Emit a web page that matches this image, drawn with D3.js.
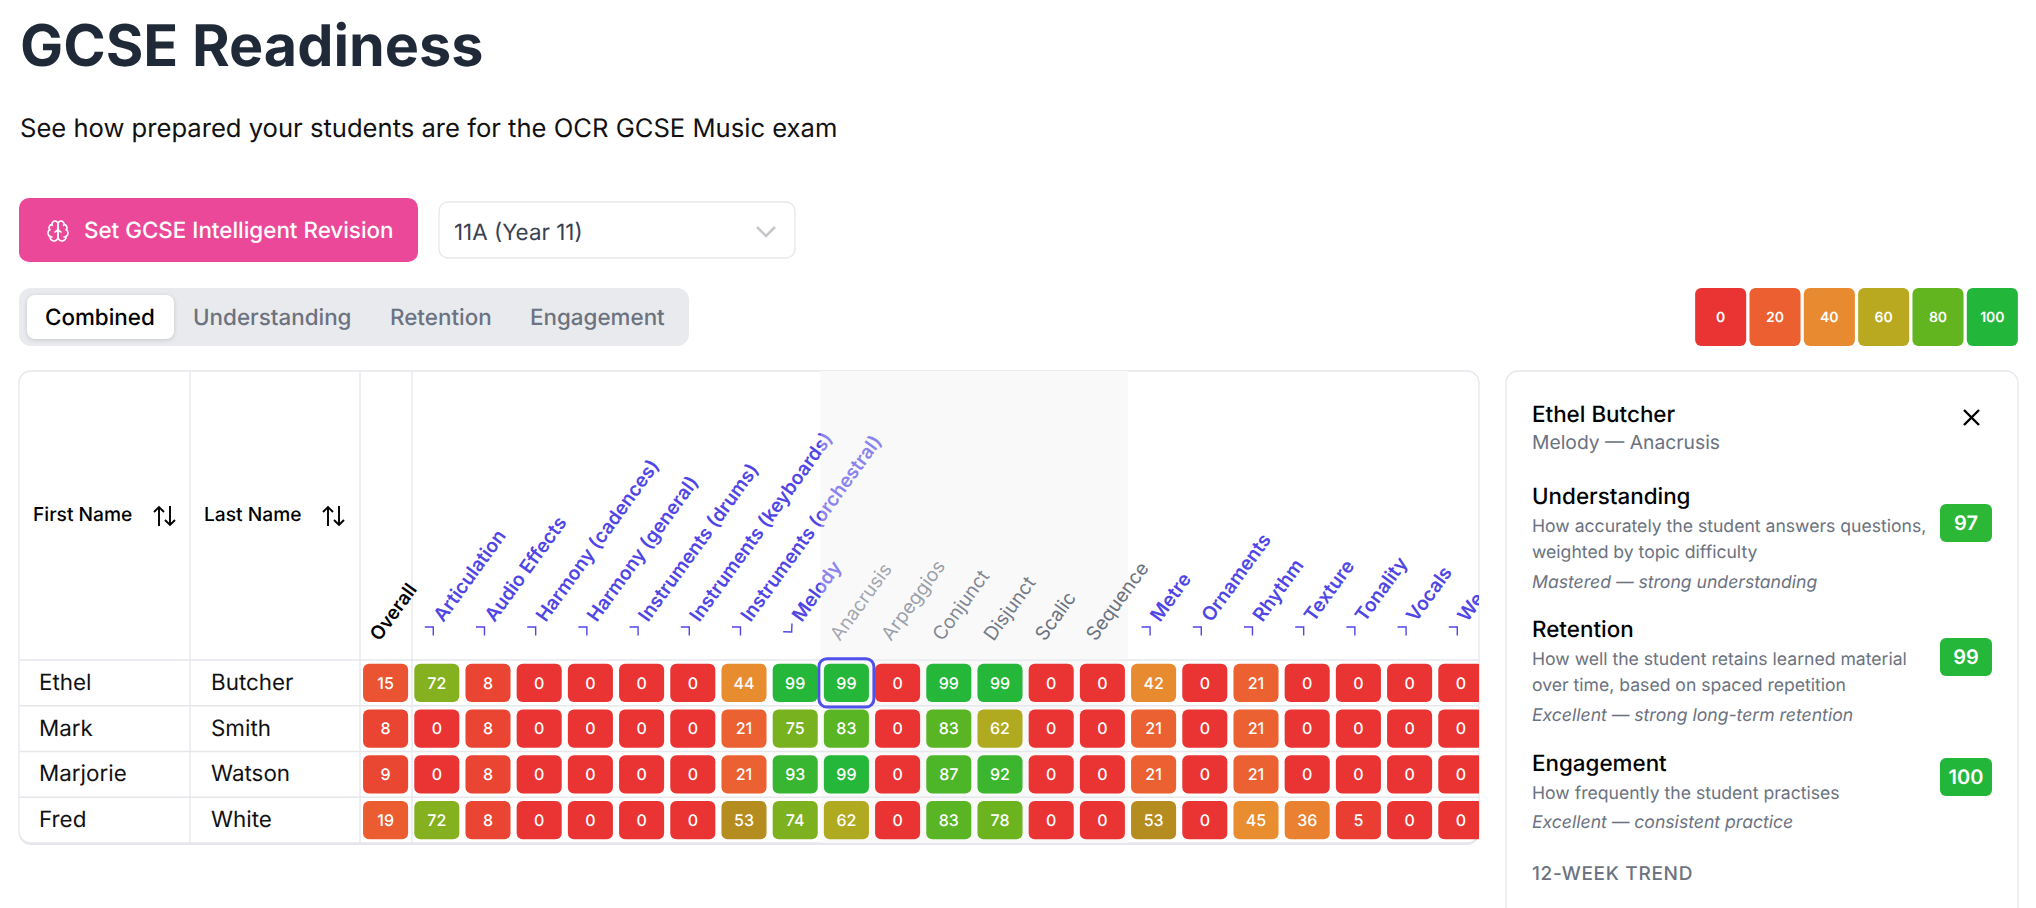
<!DOCTYPE html>
<html>
<head>
<meta charset="utf-8">
<title>GCSE Readiness</title>
<script src="https://cdn.jsdelivr.net/npm/d3@7.9.0/dist/d3.min.js"></script>
<style>
  html, body { margin: 0; padding: 0; background: #fff; overflow: hidden; }
  svg { display: block; font-family: Inter, "Noto Sans", sans-serif; text-rendering: geometricPrecision; }
</style>
</head>
<body>
<svg id="page" width="2036" height="908"></svg>
<script>
// topics along the top of the matrix
const columns = ['Overall', 'Articulation', 'Audio Effects', 'Harmony (cadences)', 'Harmony (general)',
  'Instruments (drums)', 'Instruments (keyboards)', 'Instruments (orchestral)', 'Melody',
  'Anacrusis', 'Arpeggios', 'Conjunct', 'Disjunct', 'Scalic', 'Sequence',
  'Metre', 'Ornaments', 'Rhythm', 'Texture', 'Tonality', 'Vocals', 'We'];
const subTopics = ['Anacrusis', 'Arpeggios', 'Conjunct', 'Disjunct', 'Scalic', 'Sequence'];

// students
const firstNames = ['Ethel', 'Mark', 'Marjorie', 'Fred'];
const lastNames = ['Butcher', 'Smith', 'Watson', 'White'];

// scores, one list per student, same order as columns
const ethelScores = [15, 72, 8, 0, 0, 0, 0, 44, 99, 99, 0, 99, 99, 0, 0, 42, 0, 21, 0, 0, 0, 0];
const markScores = [8, 0, 8, 0, 0, 0, 0, 21, 75, 83, 0, 83, 62, 0, 0, 21, 0, 21, 0, 0, 0, 0];
const marjorieScores = [9, 0, 8, 0, 0, 0, 0, 21, 93, 99, 0, 87, 92, 0, 0, 21, 0, 21, 0, 0, 0, 0];
const fredScores = [19, 72, 8, 0, 0, 0, 0, 53, 74, 62, 0, 83, 78, 0, 0, 53, 0, 45, 36, 5, 0, 0];
const scoreRows = [ethelScores, markScores, marjorieScores, fredScores];

// legend
const legendStops = [0, 20, 40, 60, 80, 100];
const legendColors = ['#ea3333', '#eb5f31', '#e88a30', '#b8a920', '#63b51f', '#22b73a'];

// side panel
const metricNames = ['Understanding', 'Retention', 'Engagement'];
const metricScores = [97, 99, 100];
const metricDescriptions = [
  ['How accurately the student answers questions,', 'weighted by topic difficulty'],
  ['How well the student retains learned material', 'over time, based on spaced repetition'],
  ['How frequently the student practises']
];
const metricVerdicts = ['Mastered — strong understanding', 'Excellent — strong long-term retention', 'Excellent — consistent practice'];

const tabNames = ['Combined', 'Understanding', 'Retention', 'Engagement'];

const indigo = '#4f46e5';
const grey = '#6b7280';
const lineColor = '#e5e7eb';

const svg = d3.select('#page');

// little helper so the text calls are not too long
function label(parent, str, x, y, size, fill, weight, extra) {
  let t = parent.append('text').attr('x', x).attr('y', y)
    .attr('font-size', size).attr('fill', fill).attr('font-weight', weight || 400)
    .text(str);
  if (extra) extra(t);
  return t;
}

// heading
label(svg, 'GCSE Readiness', 20, 66, 57.5, '#1f2937', 700);
label(svg, 'See how prepared your students are for the OCR GCSE Music exam', 20, 137, 25.6, '#111', 400);

// revision button
svg.append('rect').attr('x', 19).attr('y', 198).attr('width', 399).attr('height', 64).attr('rx', 10).attr('fill', '#ec4899');
let brain = svg.append('g').attr('transform', 'translate(46,219)').attr('fill', 'none').attr('stroke', '#fff')
  .attr('stroke-width', 1.6).attr('stroke-linejoin', 'round').attr('stroke-linecap', 'round');
['M12 5a3 3 0 1 0-5.997.125 4 4 0 0 0-2.526 5.77 4 4 0 0 0 .556 6.588A4 4 0 1 0 12 18Z',
  'M12 5a3 3 0 1 1 5.997.125 4 4 0 0 1 2.526 5.77 4 4 0 0 1-.556 6.588A4 4 0 1 1 12 18Z',
  'M15 13a4.5 4.5 0 0 1-3-4 4.5 4.5 0 0 1-3 4',
  'M17.599 6.5a3 3 0 0 0 .399-1.375',
  'M6.003 5.125A3 3 0 0 0 6.401 6.5',
  'M3.477 10.896a4 4 0 0 1 .585-.396',
  'M19.938 10.5a4 4 0 0 1 .585.396',
  'M6 18a4 4 0 0 1-1.967-.516',
  'M19.967 17.484A4 4 0 0 1 18 18'
].forEach(d => brain.append('path').attr('d', d));
label(svg, 'Set GCSE Intelligent Revision', 84, 238, 22.4, '#fff', 500);

// class dropdown
svg.append('rect').attr('x', 439).attr('y', 202).attr('width', 356).attr('height', 56).attr('rx', 9)
  .attr('fill', '#fff').attr('stroke', lineColor).attr('stroke-width', 1.3);
label(svg, '11A (Year 11)', 454, 240, 22.4, '#374151', 400);
svg.append('path').attr('d', 'M757 227l9 9l9 -9').attr('fill', 'none').attr('stroke', '#c4c7cc').attr('stroke-width', 2.6);

// tabs
svg.append('rect').attr('x', 19).attr('y', 288).attr('width', 670).attr('height', 58).attr('rx', 12).attr('fill', '#e9eaee');
svg.append('rect').attr('x', 27).attr('y', 295).attr('width', 147).attr('height', 44).attr('rx', 8).attr('fill', '#fff')
  .style('filter', 'drop-shadow(0 1px 2px rgba(0,0,0,.15))');
const tabX = [45, 193, 390, 530];
tabNames.forEach((name, i) => {
  label(svg, name, tabX[i], 325, 22.4, i === 0 ? '#000' : grey, 500);
});

// colour legend, the cells go brown just past 50 so the scale has a step there
const color = d3.scaleLinear()
  .domain([0, 20, 40, 49.9, 50, 60, 80, 100])
  .range(['#ea3333', '#eb5f31', '#e88a30', '#e89030', '#b3801f', '#b8a920', '#63b51f', '#22b73a']);
const legendX = d3.scaleBand().domain(legendStops).range([1693.5, 2019.5]).paddingInner(0.06).paddingOuter(0.03);
let legend = svg.selectAll('.legend-cell').data(legendStops).join('g').attr('class', 'legend-cell');
legend.append('rect').attr('x', d => legendX(d)).attr('y', 288).attr('width', legendX.bandwidth()).attr('height', 58)
  .attr('rx', 6).attr('fill', (d, i) => legendColors[i]);
legend.append('text').attr('x', d => legendX(d) + legendX.bandwidth() / 2).attr('y', 322).attr('text-anchor', 'middle')
  .attr('font-size', 14).attr('font-weight', 600).attr('fill', '#fff').text(d => d);

// table frame
const tableLeft = 19, tableRight = 1479, tableTop = 371, headBottom = 660, tableBottom = 843;
const cellLeft = 360, colStep = 51.2;

let defs = svg.append('defs');
defs.append('clipPath').attr('id', 'table-clip').append('rect')
  .attr('x', tableLeft).attr('y', tableTop).attr('width', tableRight - tableLeft).attr('height', tableBottom - tableTop + 1);

svg.append('rect').attr('x', tableLeft).attr('y', tableTop + 2).attr('width', tableRight - tableLeft).attr('height', tableBottom - tableTop)
  .attr('rx', 12).attr('fill', lineColor);
svg.append('rect').attr('x', tableLeft).attr('y', tableTop).attr('width', tableRight - tableLeft).attr('height', tableBottom - tableTop)
  .attr('rx', 12).attr('fill', '#fff').attr('stroke', lineColor).attr('stroke-width', 1.3);

const x = d3.scaleBand().domain(columns).range([cellLeft, cellLeft + colStep * columns.length]).paddingInner(0.12).paddingOuter(0.06);
const y = d3.scaleBand().domain(d3.range(scoreRows.length)).range([headBottom, tableBottom]).paddingInner(0.16).paddingOuter(0.08);
const pad = (x.step() - x.bandwidth()) / 2;

let table = svg.append('g').attr('clip-path', 'url(#table-clip)');

// shaded block behind the expanded Melody topics
const bandX = x(subTopics[0]) - pad;
const bandW = x.step() * subTopics.length;
table.append('rect').attr('x', bandX).attr('y', tableTop).attr('width', bandW).attr('height', tableBottom - tableTop).attr('fill', '#f9f9fa');

// grid lines
[190, 360, 412].forEach(lx => {
  table.append('line').attr('x1', lx).attr('x2', lx).attr('y1', tableTop).attr('y2', tableBottom).attr('stroke', lineColor).attr('stroke-width', 1.3);
});
d3.range(scoreRows.length).forEach(r => {
  let ly = y(r) - y.step() * y.paddingInner() / 2;
  table.append('line').attr('x1', tableLeft).attr('x2', tableRight).attr('y1', ly).attr('y2', ly).attr('stroke', lineColor).attr('stroke-width', 1.3);
});

// column headings
const labelAngle = -54;
columns.forEach(c => {
  if (subTopics.includes(c)) return;
  let isOverall = c === 'Overall';
  table.append('g').attr('transform', `translate(${x(c) + (isOverall ? 16.5 : 29)},${isOverall ? 642 : 623}) rotate(${labelAngle})`)
    .append('text').attr('font-size', isOverall ? 19 : 19.2).attr('font-weight', 600)
    .attr('fill', isOverall ? '#000' : indigo).text(c);
  if (isOverall) return;
  // chevron, points down on the one that is expanded
  let isOpen = c === 'Melody';
  table.append('path').attr('d', 'M-6,-6L0,0L-6,6')
    .attr('transform', `translate(${x(c) + 19},${isOpen ? 632 : 627}) rotate(${isOpen ? 47 : -45})`)
    .attr('fill', 'none').attr('stroke', indigo).attr('stroke-width', 1.4);
});

// the shaded block washes out whatever heading runs into it
table.append('rect').attr('x', bandX).attr('y', tableTop).attr('width', bandW).attr('height', headBottom - tableTop).attr('fill', '#f9f9fa').attr('fill-opacity', 0.35);

const subOpacity = { Anacrusis: 0.62, Arpeggios: 0.68, Conjunct: 0.85, Disjunct: 0.95, Scalic: 1, Sequence: 1 };
subTopics.forEach(c => {
  table.append('text').attr('transform', `translate(${x(c) + 16},642) rotate(${labelAngle})`)
    .attr('font-size', 19.2).attr('fill', grey).attr('fill-opacity', subOpacity[c]).text(c);
});

// name columns
function sortArrows(ax) {
  let g = svg.append('g').attr('transform', `translate(${ax},506)`).attr('fill', 'none').attr('stroke', '#000').attr('stroke-width', 1.9);
  g.append('path').attr('d', 'M6 20V1M1 6L6 1L11 6');
  g.append('path').attr('d', 'M17 0V19M12 14L17 19L22 14');
}
label(svg, 'First Name', 33, 521, 19.2, '#000', 500);
sortArrows(153);
label(svg, 'Last Name', 204, 521, 19.2, '#000', 500);
sortArrows(322);

firstNames.forEach((n, r) => {
  let ty = y(r) + y.bandwidth() / 2 + 7;
  label(svg, n, 39, ty, 22.4, '#111', 400);
  label(svg, lastNames[r], 211, ty, 22.4, '#111', 400);
});

// score cells
scoreRows.forEach((scores, r) => {
  let row = table.append('g');
  let cell = row.selectAll('g').data(scores).join('g');
  cell.append('rect')
    .attr('x', (d, i) => x(columns[i]))
    .attr('y', y(r))
    .attr('width', x.bandwidth())
    .attr('height', y.bandwidth())
    .attr('rx', 6)
    .attr('fill', d => color(d));
  cell.append('text')
    .attr('x', (d, i) => x(columns[i]) + x.bandwidth() / 2)
    .attr('y', y(r) + y.bandwidth() / 2 + 5.8)
    .attr('text-anchor', 'middle')
    .attr('font-size', 16)
    .attr('font-weight', 550)
    .attr('fill', '#fff')
    .text(d => d);
});

// selected cell outline
table.append('rect')
  .attr('x', x('Anacrusis') - 5).attr('y', y(0) - 5)
  .attr('width', x.bandwidth() + 10).attr('height', y.bandwidth() + 10)
  .attr('rx', 8).attr('fill', 'none').attr('stroke', '#4f51ea').attr('stroke-width', 3);

// detail panel, runs off the bottom of the page
svg.append('rect').attr('x', 1506).attr('y', 371).attr('width', 512).attr('height', 600).attr('rx', 12)
  .attr('fill', '#fff').attr('stroke', lineColor).attr('stroke-width', 1.3);
label(svg, `${firstNames[0]} ${lastNames[0]}`, 1532, 422, 22.4, '#000', 460);
label(svg, 'Melody — Anacrusis', 1532, 449, 19.3, grey, 400);
svg.append('path').attr('d', 'M1964 410L1979 425M1979 410L1964 425').attr('stroke', '#000').attr('stroke-width', 2.4).attr('fill', 'none');

const headBase = [504, 637, 771];
const badgeTop = [504, 638, 758];
metricNames.forEach((name, i) => {
  label(svg, name, 1532, headBase[i], 22.4, '#000', 460);
  metricDescriptions[i].forEach((line, j) => {
    label(svg, line, 1532, headBase[i] + 27.5 + j * 26.5, 17.6, grey, 400);
  });
  let verdictY = headBase[i] + 27 * metricDescriptions[i].length + 30;
  label(svg, metricVerdicts[i], 1532, verdictY, 17.6, grey, 400, t => t.attr('font-style', 'italic'));
  svg.append('rect').attr('x', 1940).attr('y', badgeTop[i]).attr('width', 52).attr('height', 38).attr('rx', 6).attr('fill', color(metricScores[i]));
  svg.append('text').attr('x', 1966).attr('y', badgeTop[i] + 26).attr('text-anchor', 'middle')
    .attr('font-size', 20).attr('font-weight', 600).attr('fill', '#fff').text(metricScores[i]);
});
label(svg, '12-WEEK TREND', 1532, 880, 19, grey, 500, t => t.attr('letter-spacing', 0.7));
</script>
</body>
</html>
